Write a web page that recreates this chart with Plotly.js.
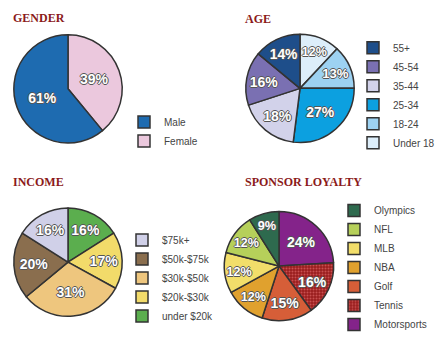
<!DOCTYPE html>
<html><head><meta charset="utf-8">
<script src="https://cdn.plot.ly/plotly-3.0.1.min.js"></script>
<style>html,body{margin:0;padding:0;background:#fff}#c{width:440px;height:339px}</style>
</head><body><div id="c"></div>
<script>
// ---- data ----
const genderLabels = ['Female', 'Male'];
const genderValues = [39, 61];
const ageLabels = ['Under 18', '18-24', '25-34', '35-44', '45-54', '55+'];
const ageValues = [12, 13, 27, 18, 16, 14];
const incomeLabels = ['under $20k', '$20k-$30k', '$30k-$50k', '$50k-$75k', '$75k+'];
const incomeValues = [16, 17, 31, 20, 16];
const sponsorLabels = ['Motorsports', 'Tennis', 'Golf', 'NBA', 'MLB', 'NFL', 'Olympics'];
const sponsorValues = [24, 16, 15, 12, 12, 12, 9];

const genderColors = ['#EBC8DD', '#1E6BB0'];
const ageColors = ['#DDEEFA', '#9DD2F2', '#0CA0E0', '#D2D2EA', '#7A70B2', '#1E4E8A'];
const incomeColors = ['#5BAE4E', '#F2DB6A', '#EEC67E', '#8A6E4E', '#D0D0E8'];
const sponsorColors = ['#84238A', '#9A1E1E', '#D65E38', '#E0A12E', '#F2DE6A', '#B6D05A', '#2E6A4E'];

const W = 440, H = 339;
function dom(cx, cy, r) {
  return {x: [(cx - r) / W, (cx + r) / W], y: [1 - (cy + r) / H, 1 - (cy - r) / H]};
}
const txtFont = {family: 'Liberation Sans, Arial, sans-serif', size: 14, color: '#fff', weight: 'bold',
  shadow: '1px 0 0 #555, -1px 0 0 #555, 0 1px 0 #555, 0 -1px 0 #555'};

function pie(labels, values, colors, d, leg, extra) {
  return {
    type: 'pie', labels: labels, values: values, sort: false, direction: 'clockwise', rotation: 0,
    domain: d, legend: leg,
    marker: Object.assign({colors: colors, line: {color: '#333', width: 1.5}}, extra || {}),
    texttemplate: '%{value}%', textposition: 'inside', insidetextorientation: 'horizontal',
    textfont: txtFont, hoverinfo: 'label+value'
  };
}

const tennisPattern = {pattern: {shape: ['', '.', '', '', '', '', ''], fgcolor: '#C85050', bgcolor: '#9A1E1E', size: 3, solidity: 0.35}};

const data = [
  pie(genderLabels, genderValues, genderColors, dom(68, 91, 55.5), 'legend'),
  pie(ageLabels, ageValues, ageColors, dom(300, 90.5, 55.5), 'legend2'),
  pie(incomeLabels, incomeValues, incomeColors, dom(68, 268.5, 55.5), 'legend3'),
  pie(sponsorLabels, sponsorValues, sponsorColors, dom(279, 272.5, 56), 'legend4', tennisPattern)
];

const legFont = {family: 'Liberation Sans, Arial, sans-serif', size: 10, color: '#444'};
function leg(px, py, order) {
  return {x: px / W, y: 1 - py / H, xanchor: 'left', yanchor: 'top', font: legFont,
    bgcolor: 'rgba(0,0,0,0)', traceorder: order || 'normal', itemclick: false};
}
const titleFont = {family: 'Liberation Serif, DejaVu Serif, serif', size: 12, color: '#8B1A1A', weight: 'bold'};
function ttl(text, px, py) {
  return {text: text, x: px / W, y: 1 - py / H, xref: 'paper', yref: 'paper', xanchor: 'left', yanchor: 'middle',
    showarrow: false, font: titleFont};
}

const layout = {
  width: W, height: H, margin: {l: 0, r: 0, t: 0, b: 0},
  paper_bgcolor: '#fff', plot_bgcolor: '#fff',
  legend: leg(124, 110, 'reversed'),
  legend2: leg(353, 34, 'reversed'),
  legend3: leg(122, 231, 'reversed'),
  legend4: leg(334, 201, 'reversed'),
  annotations: [
    ttl('GENDER', 11, 18),
    ttl('AGE', 243, 19),
    ttl('INCOME', 11, 186),
    ttl('SPONSOR LOYALTY', 243, 186)
  ]
};

Plotly.newPlot('c', data, layout, {displayModeBar: false, staticPlot: true});
</script>
</body></html>
